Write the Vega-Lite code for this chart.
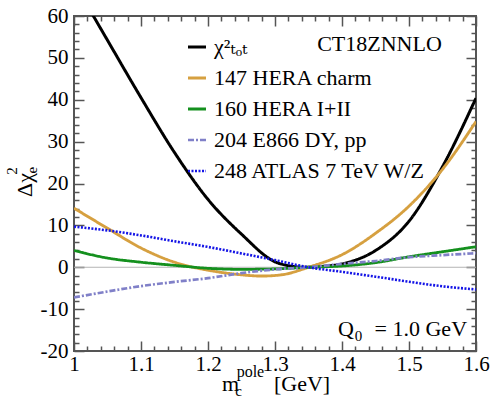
{
  "$schema": "https://vega.github.io/schema/vega-lite/v6.json",
  "width": 402,
  "height": 335,
  "autosize": {"type": "none"},
  "padding": {"left": 74, "top": 16, "right": 22, "bottom": 48},
  "config": {
    "view": {"stroke": "#555555", "strokeWidth": 2},
    "font": "Liberation Serif, Times New Roman, DejaVu Serif, serif",
    "text": {"font": "Liberation Serif, Times New Roman, DejaVu Serif, serif"},
    "axis": {"domain": false, "grid": false, "tickColor": "#555555", "tickWidth": 1.5, "labelFont": "Liberation Serif, Times New Roman, DejaVu Serif, serif", "labelFontSize": 21, "labelColor": "#000000", "labelOverlap": false, "labelFlush": false, "title": null},
    "legend": {"orient": "none", "legendX": 112, "legendY": 20, "symbolType": "stroke", "symbolSize": 324, "labelFont": "Liberation Serif, Times New Roman, DejaVu Serif, serif", "labelFontSize": 22, "labelColor": "#000000", "labelLimit": 0, "rowPadding": 9, "labelOffset": 6, "title": null}
  },
  "data": {"values": [{"note": "annotation"}]},
  "datasets": {
    "curves": [
      {"series": "χ²ₜₒₜ", "x": 1.0, "y": 68},
      {"series": "χ²ₜₒₜ", "x": 1.03, "y": 59.7},
      {"series": "χ²ₜₒₜ", "x": 1.05, "y": 54.2},
      {"series": "χ²ₜₒₜ", "x": 1.1, "y": 40.5},
      {"series": "χ²ₜₒₜ", "x": 1.15, "y": 27.4},
      {"series": "χ²ₜₒₜ", "x": 1.2, "y": 16.2},
      {"series": "χ²ₜₒₜ", "x": 1.25, "y": 7.9},
      {"series": "χ²ₜₒₜ", "x": 1.3, "y": 1.3},
      {"series": "χ²ₜₒₜ", "x": 1.325, "y": 0.25},
      {"series": "χ²ₜₒₜ", "x": 1.345, "y": 0},
      {"series": "χ²ₜₒₜ", "x": 1.37, "y": 0.2},
      {"series": "χ²ₜₒₜ", "x": 1.4, "y": 0.8},
      {"series": "χ²ₜₒₜ", "x": 1.45, "y": 4.0},
      {"series": "χ²ₜₒₜ", "x": 1.5, "y": 11.0},
      {"series": "χ²ₜₒₜ", "x": 1.55, "y": 24.0},
      {"series": "χ²ₜₒₜ", "x": 1.6, "y": 40.4},
      {"series": "147 HERA charm", "x": 1.0, "y": 14.1},
      {"series": "147 HERA charm", "x": 1.05, "y": 9.3},
      {"series": "147 HERA charm", "x": 1.1, "y": 4.6},
      {"series": "147 HERA charm", "x": 1.15, "y": 1.2},
      {"series": "147 HERA charm", "x": 1.2, "y": -0.7},
      {"series": "147 HERA charm", "x": 1.25, "y": -1.8},
      {"series": "147 HERA charm", "x": 1.28, "y": -2.1},
      {"series": "147 HERA charm", "x": 1.31, "y": -1.8},
      {"series": "147 HERA charm", "x": 1.35, "y": 0},
      {"series": "147 HERA charm", "x": 1.4, "y": 3.0},
      {"series": "147 HERA charm", "x": 1.45, "y": 8.1},
      {"series": "147 HERA charm", "x": 1.5, "y": 14.6},
      {"series": "147 HERA charm", "x": 1.55, "y": 23.4},
      {"series": "147 HERA charm", "x": 1.6, "y": 34.8},
      {"series": "160 HERA I+II", "x": 1.0, "y": 4.0},
      {"series": "160 HERA I+II", "x": 1.05, "y": 2.2},
      {"series": "160 HERA I+II", "x": 1.1, "y": 1.2},
      {"series": "160 HERA I+II", "x": 1.15, "y": 0.45},
      {"series": "160 HERA I+II", "x": 1.2, "y": -0.25},
      {"series": "160 HERA I+II", "x": 1.25, "y": -0.5},
      {"series": "160 HERA I+II", "x": 1.3, "y": -0.4},
      {"series": "160 HERA I+II", "x": 1.35, "y": 0},
      {"series": "160 HERA I+II", "x": 1.4, "y": 0.3},
      {"series": "160 HERA I+II", "x": 1.45, "y": 1.1},
      {"series": "160 HERA I+II", "x": 1.5, "y": 2.5},
      {"series": "160 HERA I+II", "x": 1.55, "y": 3.7},
      {"series": "160 HERA I+II", "x": 1.6, "y": 4.9},
      {"series": "204 E866 DY, pp", "x": 1.0, "y": -7.2},
      {"series": "204 E866 DY, pp", "x": 1.05, "y": -5.8},
      {"series": "204 E866 DY, pp", "x": 1.1, "y": -4.5},
      {"series": "204 E866 DY, pp", "x": 1.15, "y": -3.5},
      {"series": "204 E866 DY, pp", "x": 1.2, "y": -2.6},
      {"series": "204 E866 DY, pp", "x": 1.25, "y": -1.4},
      {"series": "204 E866 DY, pp", "x": 1.3, "y": -0.5},
      {"series": "204 E866 DY, pp", "x": 1.35, "y": 0},
      {"series": "204 E866 DY, pp", "x": 1.4, "y": 0.8},
      {"series": "204 E866 DY, pp", "x": 1.45, "y": 1.5},
      {"series": "204 E866 DY, pp", "x": 1.5, "y": 2.4},
      {"series": "204 E866 DY, pp", "x": 1.55, "y": 2.9},
      {"series": "204 E866 DY, pp", "x": 1.6, "y": 3.35},
      {"series": "248 ATLAS 7 TeV W/Z", "x": 1.0, "y": 9.7},
      {"series": "248 ATLAS 7 TeV W/Z", "x": 1.05, "y": 8.8},
      {"series": "248 ATLAS 7 TeV W/Z", "x": 1.1, "y": 7.6},
      {"series": "248 ATLAS 7 TeV W/Z", "x": 1.15, "y": 6.2},
      {"series": "248 ATLAS 7 TeV W/Z", "x": 1.2, "y": 4.85},
      {"series": "248 ATLAS 7 TeV W/Z", "x": 1.25, "y": 3.3},
      {"series": "248 ATLAS 7 TeV W/Z", "x": 1.3, "y": 1.7},
      {"series": "248 ATLAS 7 TeV W/Z", "x": 1.35, "y": 0},
      {"series": "248 ATLAS 7 TeV W/Z", "x": 1.4, "y": -1.1},
      {"series": "248 ATLAS 7 TeV W/Z", "x": 1.45, "y": -2.25},
      {"series": "248 ATLAS 7 TeV W/Z", "x": 1.5, "y": -3.45},
      {"series": "248 ATLAS 7 TeV W/Z", "x": 1.55, "y": -4.55},
      {"series": "248 ATLAS 7 TeV W/Z", "x": 1.6, "y": -5.3}
    ]
  },
  "resolve": {"axis": {"x": "independent", "y": "independent"}},
  "layer": [
    {
      "mark": {"type": "rule", "color": "#b4b4b4", "strokeWidth": 1},
      "encoding": {"y": {"datum": 0, "type": "quantitative", "axis": null}}
    },
    {
      "data": {"name": "curves"},
      "mark": {"type": "line", "interpolate": "monotone", "clip": true},
      "encoding": {
        "x": {
          "field": "x", "type": "quantitative",
          "scale": {"domain": [1, 1.6], "nice": false, "zero": false},
          "axis": {"orient": "bottom", "values": [1, 1.1, 1.2, 1.3, 1.4, 1.5, 1.6], "labelExpr": "''+datum.value", "ticks": false, "labelPadding": 2}
        },
        "y": {
          "field": "y", "type": "quantitative",
          "scale": {"domain": [-20, 60], "nice": false, "zero": false},
          "axis": {"orient": "left", "values": [-20, -10, 0, 10, 20, 30, 40, 50, 60], "labelExpr": "''+datum.value", "ticks": false, "labelPadding": 6}
        },
        "color": {
          "field": "series", "type": "nominal",
          "sort": ["χ²ₜₒₜ", "147 HERA charm", "160 HERA I+II", "204 E866 DY, pp", "248 ATLAS 7 TeV W/Z"],
          "scale": {"domain": ["χ²ₜₒₜ", "147 HERA charm", "160 HERA I+II", "204 E866 DY, pp", "248 ATLAS 7 TeV W/Z"], "range": ["#000000", "#d6a040", "#14901e", "#8080c8", "#1414e6"]},
          "legend": {"labelFont": "Liberation Serif, Times New Roman, DejaVu Serif, serif", "labelFontSize": 22, "labelLimit": 0}
        },
        "strokeDash": {
          "field": "series", "type": "nominal",
          "sort": ["χ²ₜₒₜ", "147 HERA charm", "160 HERA I+II", "204 E866 DY, pp", "248 ATLAS 7 TeV W/Z"],
          "scale": {"domain": ["χ²ₜₒₜ", "147 HERA charm", "160 HERA I+II", "204 E866 DY, pp", "248 ATLAS 7 TeV W/Z"], "range": [[1, 0], [1, 0], [1, 0], [6, 2, 2, 2], [2, 1.5]]}
        },
        "strokeWidth": {
          "field": "series", "type": "nominal",
          "sort": ["χ²ₜₒₜ", "147 HERA charm", "160 HERA I+II", "204 E866 DY, pp", "248 ATLAS 7 TeV W/Z"],
          "scale": {"domain": ["χ²ₜₒₜ", "147 HERA charm", "160 HERA I+II", "204 E866 DY, pp", "248 ATLAS 7 TeV W/Z"], "range": [3, 2.6, 2.6, 2.6, 2.6]}
        }
      }
    },
    {
      "mark": {"type": "point", "opacity": 0},
      "encoding": {
        "x": {
          "datum": 1.3, "type": "quantitative",
          "axis": {
            "orient": "top",
            "values": [1, 1.02, 1.04, 1.06, 1.08, 1.1, 1.12, 1.14, 1.16, 1.18, 1.2, 1.22, 1.24, 1.26, 1.28, 1.3, 1.32, 1.34, 1.36, 1.38, 1.4, 1.42, 1.44, 1.46, 1.48, 1.5, 1.52, 1.54, 1.56, 1.58, 1.6],
            "labels": false,
            "tickSize": {"condition": {"test": "abs(datum.value*10-round(datum.value*10))<0.001", "value": -10}, "value": -5}
          }
        },
        "y": {
          "datum": 0, "type": "quantitative",
          "axis": {
            "orient": "right",
            "values": [-20, -18, -16, -14, -12, -10, -8, -6, -4, -2, 0, 2, 4, 6, 8, 10, 12, 14, 16, 18, 20, 22, 24, 26, 28, 30, 32, 34, 36, 38, 40, 42, 44, 46, 48, 50, 52, 54, 56, 58, 60],
            "labels": false,
            "tickSize": {"condition": {"test": "datum.value % 10 === 0", "value": -10}, "value": -5}
          }
        }
      }
    },
    {
      "mark": {"type": "point", "opacity": 0},
      "encoding": {
        "x": {
          "datum": 1.3, "type": "quantitative",
          "axis": {
            "orient": "bottom",
            "values": [1, 1.02, 1.04, 1.06, 1.08, 1.1, 1.12, 1.14, 1.16, 1.18, 1.2, 1.22, 1.24, 1.26, 1.28, 1.3, 1.32, 1.34, 1.36, 1.38, 1.4, 1.42, 1.44, 1.46, 1.48, 1.5, 1.52, 1.54, 1.56, 1.58, 1.6],
            "labels": false,
            "tickSize": {"condition": {"test": "abs(datum.value*10-round(datum.value*10))<0.001", "value": -10}, "value": -5}
          }
        },
        "y": {
          "datum": 0, "type": "quantitative",
          "axis": {
            "orient": "left",
            "values": [-20, -18, -16, -14, -12, -10, -8, -6, -4, -2, 0, 2, 4, 6, 8, 10, 12, 14, 16, 18, 20, 22, 24, 26, 28, 30, 32, 34, 36, 38, 40, 42, 44, 46, 48, 50, 52, 54, 56, 58, 60],
            "labels": false,
            "tickSize": {"condition": {"test": "datum.value % 10 === 0", "value": -10}, "value": -5}
          }
        }
      }
    },
    {
      "mark": {"type": "text", "text": "CT18ZNNLO", "align": "right", "baseline": "alphabetic", "fontSize": 22, "color": "#000000"},
      "encoding": {"x": {"datum": 1.549, "type": "quantitative", "axis": null}, "y": {"datum": 51.6, "type": "quantitative", "axis": null}}
    },
    {
      "mark": {"type": "text", "text": "Q", "align": "left", "baseline": "alphabetic", "fontSize": 22, "color": "#000000"},
      "encoding": {"x": {"datum": 1.394, "type": "quantitative", "axis": null}, "y": {"datum": -16.4, "type": "quantitative", "axis": null}}
    },
    {
      "mark": {"type": "text", "text": "0", "align": "left", "baseline": "alphabetic", "fontSize": 15, "color": "#000000"},
      "encoding": {"x": {"datum": 1.419, "type": "quantitative", "axis": null}, "y": {"datum": -17.7, "type": "quantitative", "axis": null}}
    },
    {
      "mark": {"type": "text", "text": "= 1.0 GeV", "align": "right", "baseline": "alphabetic", "fontSize": 22, "color": "#000000"},
      "encoding": {"x": {"datum": 1.5866, "type": "quantitative", "axis": null}, "y": {"datum": -16.4, "type": "quantitative", "axis": null}}
    },
    {
      "mark": {"type": "text", "text": "m", "align": "left", "baseline": "alphabetic", "fontSize": 22, "color": "#000000"},
      "encoding": {"x": {"datum": 1.221, "type": "quantitative", "axis": null}, "y": {"datum": -29.6, "type": "quantitative", "axis": null}}
    },
    {
      "mark": {"type": "text", "text": "c", "align": "left", "baseline": "alphabetic", "fontSize": 15, "color": "#000000"},
      "encoding": {"x": {"datum": 1.2405, "type": "quantitative", "axis": null}, "y": {"datum": -30.7, "type": "quantitative", "axis": null}}
    },
    {
      "mark": {"type": "text", "text": "pole", "align": "left", "baseline": "alphabetic", "fontSize": 16, "color": "#000000"},
      "encoding": {"x": {"datum": 1.2428, "type": "quantitative", "axis": null}, "y": {"datum": -26.2, "type": "quantitative", "axis": null}}
    },
    {
      "mark": {"type": "text", "text": "[GeV]", "align": "left", "baseline": "alphabetic", "fontSize": 22, "color": "#000000"},
      "encoding": {"x": {"datum": 1.2985, "type": "quantitative", "axis": null}, "y": {"datum": -29.6, "type": "quantitative", "axis": null}}
    },
    {
      "mark": {"type": "text", "text": "Δχ", "angle": 270, "align": "left", "baseline": "alphabetic", "fontSize": 22, "color": "#000000"},
      "encoding": {"x": {"datum": 0.937, "type": "quantitative", "axis": null}, "y": {"datum": 16.8, "type": "quantitative", "axis": null}}
    },
    {
      "mark": {"type": "text", "text": "2", "angle": 270, "align": "left", "baseline": "alphabetic", "fontSize": 15, "color": "#000000"},
      "encoding": {"x": {"datum": 0.9155, "type": "quantitative", "axis": null}, "y": {"datum": 22.1, "type": "quantitative", "axis": null}}
    },
    {
      "mark": {"type": "text", "text": "e", "angle": 270, "align": "left", "baseline": "alphabetic", "fontSize": 15, "color": "#000000"},
      "encoding": {"x": {"datum": 0.9445, "type": "quantitative", "axis": null}, "y": {"datum": 22.4, "type": "quantitative", "axis": null}}
    }
  ]
}
